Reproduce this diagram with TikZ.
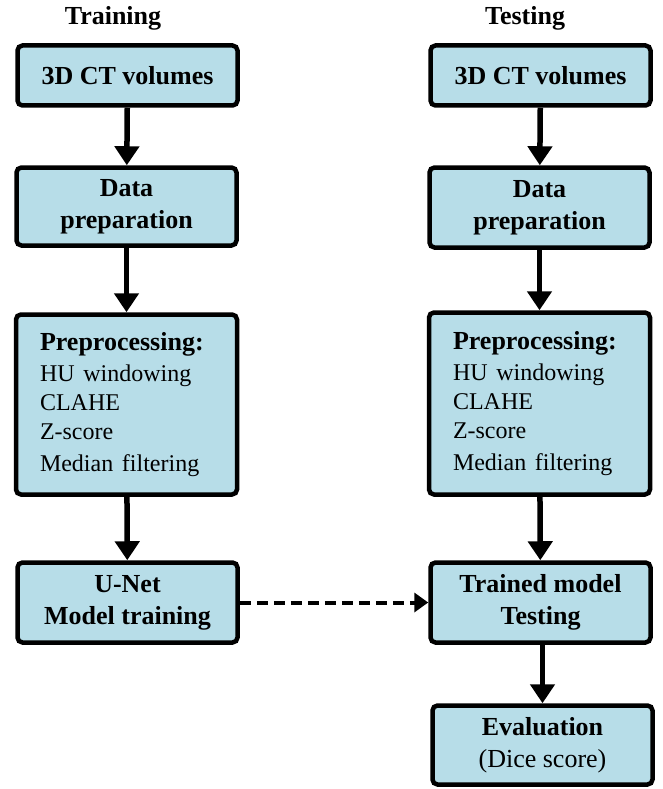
\documentclass[tikz,border=0pt]{standalone}
\usepackage{fontspec}
\setmainfont{Liberation Serif}
\usepackage{tikz}
\usetikzlibrary{arrows.meta, calc}
\definecolor{boxblue}{HTML}{B7DDE8}
\tikzset{
	stage/.style={draw, line width=4.5pt, rounded corners=5pt, fill=boxblue, minimum width=220pt, align=center, font=\fontsize{26}{32}\selectfont\bfseries, inner sep=2pt},
	flow/.style={line width=5.5pt, -{Triangle[length=19pt, width=24pt]}},
	link/.style={line width=4pt, dash pattern=on 11pt off 6pt, -{Triangle[length=14pt, width=19pt]}}
}

\begin{document}
\begin{tikzpicture}[x=1pt, y=-1pt]
	\useasboundingbox (0,0) rectangle (662,789);

	\node (TTr) at (113,18) {\fontsize{26}{32}\selectfont\bfseries Training};
	\node (TTe) at (525,18) {\fontsize{26}{32}\selectfont\bfseries Testing};

	\node (L1) at (127.5,75.5) [stage, minimum height=60pt] {3D CT volumes};
	\node (L2) at (126.5,206.5) [stage, minimum height=78pt] {Data\\preparation};
	\node (L3) at (126.5,404.5) [stage, minimum height=180pt, align=left, text width=173pt, inner xsep=24pt] {Preprocessing:\\[2pt]
		{\fontsize{24}{29}\selectfont\mdseries HU windowing\\CLAHE\\Z-score\\Median filtering}};
	\node (L4) at (127.5,602.5) [stage, minimum height=80pt] {U-Net\\Model training};

	\node (R1) at (540.5,75.5) [stage, minimum height=60pt] {3D CT volumes};
	\node (R2) at (539.5,207.5) [stage, minimum height=80pt] {Data\\preparation};
	\node (R3) at (539.5,403.5) [stage, minimum height=182pt, align=left, text width=173pt, inner xsep=24pt] {Preprocessing:\\[2pt]
		{\fontsize{24}{29}\selectfont\mdseries HU windowing\\CLAHE\\Z-score\\Median filtering}};
	\node (R4) at (540.5,602.5) [stage, minimum height=80pt] {Trained model\\Testing};
	\node (R5) at (542.5,745) [stage, minimum height=79pt] {Evaluation\\{\mdseries (Dice score)}};

	\draw [flow] (L1) -- (L2);
	\draw [flow] (L2) -- (L3);
	\draw [flow] (L3) -- (L4);

	\draw [flow] (R1) -- (R2);
	\draw [flow] (R2) -- (R3);
	\draw [flow] (R3) -- (R4);
	\draw [flow] (R4.south -| R5) -- (R5);

	\draw [link] (L4) -- (R4);

\end{tikzpicture}
\end{document}
